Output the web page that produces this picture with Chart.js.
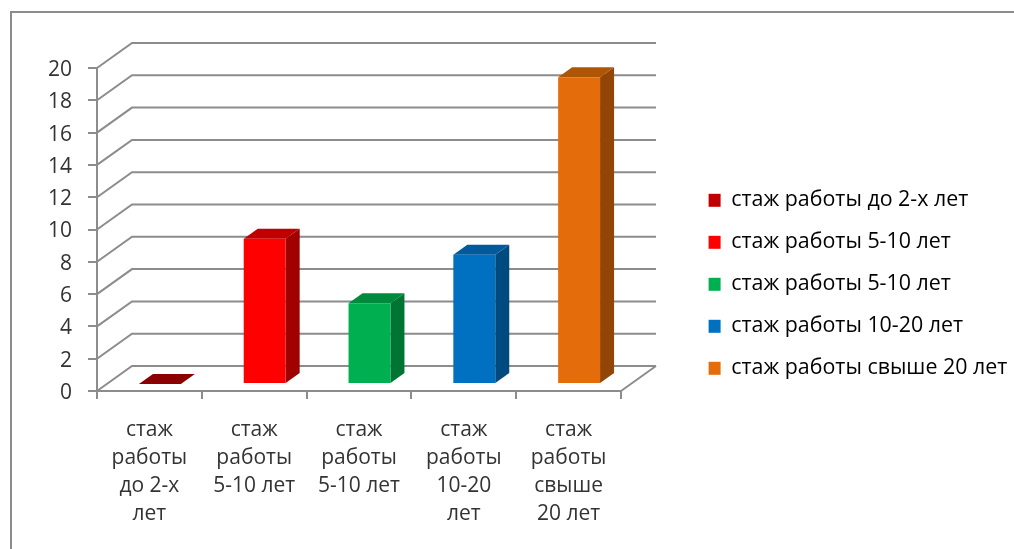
<!DOCTYPE html>
<html>
<head>
<meta charset="utf-8">
<title>стаж работы</title>
<script src="https://cdn.jsdelivr.net/npm/chart.js@4"></script>
<style>
    body { margin: 0; background: #fff; }
    canvas { display: block; }
</style>
</head>
<body>
<canvas id="chart" width="1014" height="549"></canvas>
<script>
// Data
const categories = [
    ['стаж', 'работы', 'до 2-х', 'лет'],
    ['стаж', 'работы', '5-10 лет'],
    ['стаж', 'работы', '5-10 лет'],
    ['стаж', 'работы', '10-20', 'лет'],
    ['стаж', 'работы', 'свыше', '20 лет']
];
const legendNames = [
    'стаж работы до 2-х лет',
    'стаж работы 5-10 лет',
    'стаж работы 5-10 лет',
    'стаж работы 10-20 лет',
    'стаж работы свыше 20 лет'
];
const values = [0, 9, 5, 8, 19];

// Colours of the three visible faces of every bar
const frontColors = ['#c00000', '#ff0000', '#00b050', '#0070c0', '#e46c0a'];
const sideColors = ['#800000', '#a00000', '#007432', '#004a80', '#924505'];
const topColors = ['#8b0000', '#c00000', '#008a3e', '#005a9c', '#ae5606'];

const lineColor = '#8c8c8c';
const textColor = '#333333';
const fontFamily = '"Open Sans", sans-serif';

// Fake 3D: how far the back wall sits from the axes, and where the bars stand
const wallX = 35, wallY = -25;
const barX = 10.5, barY = -7;
const depthX = 14, depthY = -10;

const wallsAndBars = {
    id: 'wallsAndBars',
    beforeInit(chart) {
        // keep the plot at a fixed width, whatever the legend measures
        const fit = chart.legend.fit;
        chart.legend.fit = function () {
            fit.call(this);
            this.width = 393;
        };
    },
    afterLayout(chart) {
        chart.legend.left = 688;
        chart.legend.right = 1014;
        chart.legend.top = 169;
    },
    beforeDraw(chart) {
        const ctx = chart.ctx;
        // outer frame
        ctx.save();
        ctx.strokeStyle = '#8c8c8c';
        ctx.lineWidth = 2;
        ctx.beginPath();
        ctx.moveTo(11, 549);
        ctx.lineTo(11, 12);
        ctx.lineTo(1014, 12);
        ctx.stroke();
        ctx.restore();
    },
    beforeDatasetsDraw(chart) {
        const ctx = chart.ctx;
        const { left, right, bottom } = chart.chartArea;
        const y = chart.scales.y;

        // back wall and side wall lines
        ctx.save();
        ctx.strokeStyle = lineColor;
        ctx.lineWidth = 2;
        y.ticks.forEach(t => {
            const py = y.getPixelForValue(t.value);
            ctx.beginPath();
            ctx.moveTo(left, py);
            ctx.lineTo(left + wallX, py + wallY);
            ctx.lineTo(right + wallX, py + wallY);
            ctx.stroke();
        });
        ctx.beginPath();
        ctx.moveTo(right, bottom);
        ctx.lineTo(right + wallX, bottom + wallY);
        ctx.stroke();
        ctx.restore();

        // bars stand on the floor, so everything moves in a bit
        ctx.save();
        ctx.translate(barX, barY);
        chart.getDatasetMeta(0).data.forEach((bar, i) => {
            const x0 = bar.x - bar.width / 2;
            const x1 = bar.x + bar.width / 2;
            ctx.fillStyle = sideColors[i];
            ctx.beginPath();
            ctx.moveTo(x1, bar.y);
            ctx.lineTo(x1 + depthX, bar.y + depthY);
            ctx.lineTo(x1 + depthX, bar.base + depthY);
            ctx.lineTo(x1, bar.base);
            ctx.closePath();
            ctx.fill();
            ctx.fillStyle = topColors[i];
            ctx.beginPath();
            ctx.moveTo(x0, bar.y);
            ctx.lineTo(x0 + depthX, bar.y + depthY);
            ctx.lineTo(x1 + depthX, bar.y + depthY);
            ctx.lineTo(x1, bar.y);
            ctx.closePath();
            ctx.fill();
        });
    },
    afterDatasetsDraw(chart) {
        chart.ctx.restore();
    }
};

new Chart(document.getElementById('chart'), {
    type: 'bar',
    data: {
        labels: categories,
        datasets: [{
            data: values,
            backgroundColor: frontColors,
            categoryPercentage: 1,
            barPercentage: 0.4
        }]
    },
    plugins: [wallsAndBars],
    options: {
        responsive: false,
        animation: false,
        layout: { padding: { top: 68, left: 0, right: 0, bottom: 0 } },
        plugins: {
            title: { display: false },
            tooltip: { enabled: false },
            legend: {
                position: 'right',
                align: 'start',
                labels: {
                    boxWidth: 12,
                    boxHeight: 13,
                    padding: 20.6,
                    color: textColor,
                    font: { family: fontFamily, size: 21.4 },
                    generateLabels() {
                        return legendNames.map((name, i) => ({
                            text: name,
                            fillStyle: frontColors[i],
                            strokeStyle: frontColors[i],
                            lineWidth: 0,
                            index: i
                        }));
                    }
                }
            }
        },
        scales: {
            x: {
                afterFit(scale) { scale.height = 158; },
                grid: { drawOnChartArea: false, color: lineColor, lineWidth: 2, tickLength: 8 },
                border: { color: lineColor, width: 2 },
                ticks: {
                    color: textColor,
                    padding: 17,
                    maxRotation: 0,
                    font: { family: fontFamily, size: 21, lineHeight: 1.333 }
                }
            },
            y: {
                min: 0,
                max: 20,
                afterFit(scale) {
                    scale.width = 97;
                    // the numbers sit a little under their tick marks in the picture
                    if (!scale.labelsMoved) {
                        const compute = scale._computeLabelItems;
                        scale._computeLabelItems = function (area) {
                            const items = compute.call(this, area);
                            items.forEach(item => { item.textOffset += 2; });
                            return items;
                        };
                        scale.labelsMoved = true;
                    }
                },
                grid: { drawOnChartArea: false, color: lineColor, lineWidth: 2, tickLength: 9 },
                border: { color: lineColor, width: 2 },
                ticks: {
                    stepSize: 2,
                    color: textColor,
                    padding: 16,
                    font: { family: fontFamily, size: 21 }
                }
            }
        }
    }
});
</script>
</body>
</html>
